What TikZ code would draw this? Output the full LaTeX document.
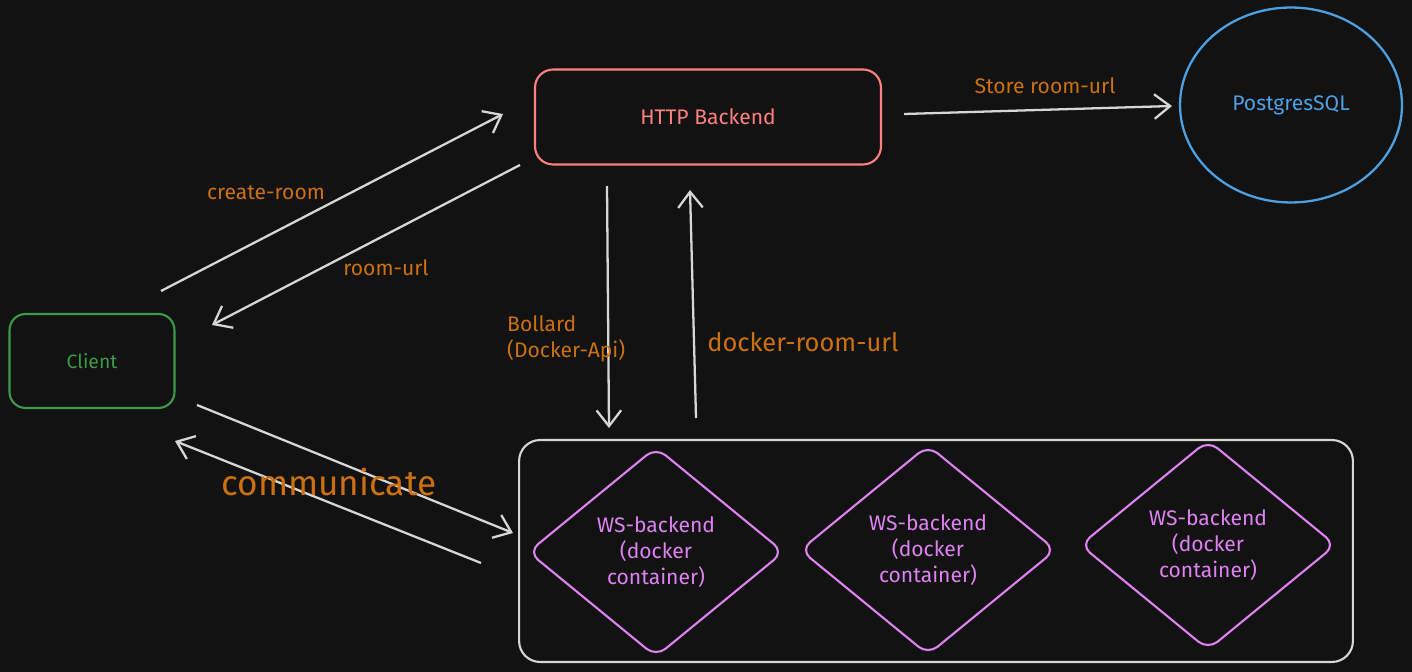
\documentclass[tikz,border=0pt]{standalone}
\usepackage{fontspec}
\setmainfont{Fira Sans}
\usetikzlibrary{arrows.meta, shapes.geometric}
\definecolor{bgdark}{RGB}{18,18,18}
\definecolor{linegray}{RGB}{214,214,214}
\definecolor{labelorange}{RGB}{204,112,16}
\definecolor{clientgreen}{RGB}{58,156,74}
\definecolor{httpred}{RGB}{255,128,128}
\definecolor{dbblue}{RGB}{77,160,226}
\definecolor{wsviolet}{RGB}{222,130,242}

\begin{document}
\begin{tikzpicture}[
    x=0.02cm, y=-0.02cm,
    clientbox/.style={rectangle, rounded corners=0.32cm, draw=clientgreen, line width=1.2pt,
        minimum width=3.3cm, minimum height=1.88cm, align=center, text=clientgreen,
        font=\fontsize{11}{13}\selectfont},
    httpbox/.style={rectangle, rounded corners=0.36cm, draw=httpred, line width=1.2pt,
        minimum width=6.92cm, minimum height=1.9cm, align=center, text=httpred,
        font=\fontsize{12}{14}\selectfont},
    dbnode/.style={ellipse, draw=dbblue, line width=1.3pt, minimum width=4.44cm,
        minimum height=3.9cm, text=dbblue, font=\fontsize{12}{14}\selectfont},
    groupbox/.style={rectangle, rounded corners=0.42cm, draw=linegray, line width=1.2pt,
        minimum width=16.68cm, minimum height=4.44cm},
    wsnode/.style={diamond, rounded corners=7pt, draw=wsviolet, line width=1.2pt,
        minimum width=5.12cm, minimum height=4.2cm, inner sep=0pt, align=center,
        text=wsviolet, font=\fontsize{12}{15}\selectfont},
    flow/.style={-{Straight Barb[length=9pt, width=14pt]}, line width=1.3pt, linegray},
    lbl/.style={text=labelorange, font=\fontsize{12}{15}\selectfont}
]
    % Background
    \fill[bgdark] (0,0) rectangle (1412,672);

    % Services
    \node[clientbox] (client) at (92,361) {Client};
    \node[httpbox]   (http)   at (708,117) {\raisebox{-0.7ex}{HTTP Backend}};
    \node[dbnode]    (db)     at (1291,105) {PostgresSQL};

    % Docker host with containers
    \node[groupbox] (host) at (936,551) {};
    \node[wsnode] (ws1) at (656,552)  {WS-backend\\(docker\\container)};
    \node[wsnode] (ws2) at (928,550)  {WS-backend\\(docker\\container)};
    \node[wsnode] (ws3) at (1208,545) {WS-backend\\(docker\\container)};

    % Arrow end points
    \coordinate (crA) at (161,291);  \coordinate (crB) at (503,114);
    \coordinate (ruA) at (520,165);  \coordinate (ruB) at (212,325);
    \coordinate (stA) at (904,114);  \coordinate (stB) at (1172,106);
    \coordinate (boA) at (607,186);  \coordinate (boB) at (609,428);
    \coordinate (drA) at (696,418);  \coordinate (drB) at (690,190);
    \coordinate (cmA) at (197,405);  \coordinate (cmB) at (513,533);
    \coordinate (cbA) at (481,563);  \coordinate (cbB) at (175,441);

    % Arrows
    \draw[flow] (crA) -- (crB);
    \draw[flow] (ruA) -- (ruB);
    \draw[flow] (stA) -- (stB);
    \draw[flow] (boA) -- (boB);
    \draw[flow] (drA) -- (drB);
    \draw[flow] (cmA) -- (cmB);
    \draw[flow] (cbA) -- (cbB);

    % Labels
    \node[lbl] (lcreate) at (266,193) {create-room};
    \node[lbl] (lroom)   at (386,268) {room-url};
    \node[lbl] (lstore)  at (1045,86) {Store room-url};
    \node[lbl, anchor=west, align=left] (lbollard) at (501,339) {Bollard\\(Docker-Api)};
    \node[lbl, font=\fontsize{14.5}{17}\selectfont] (ldocker) at (803,342) {docker-room-url};
    \node[lbl, font=\fontsize{20}{24}\selectfont\mdseries] (lcomm) at (329,482) {communicate};

\end{tikzpicture}
\end{document}
